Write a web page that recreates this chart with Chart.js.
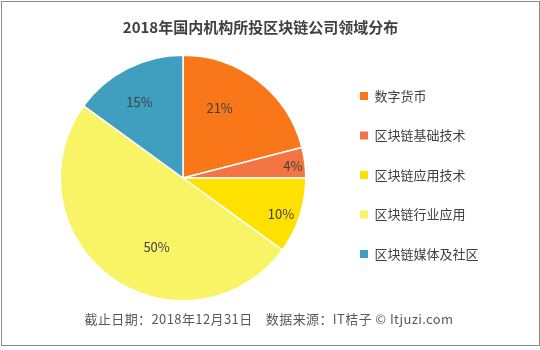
<!DOCTYPE html>
<html>
<head>
<meta charset="utf-8">
<script src="https://cdn.jsdelivr.net/npm/chart.js"></script>
<style>
  html, body { margin: 0; padding: 0; background: #fff; }
  #wrap { width: 540px; height: 350px; }
</style>
</head>
<body>
<div id="wrap"><canvas id="sectorChart" width="540" height="350"></canvas></div>
<script>
// Chart data
const categories = ['数字货币', '区块链基础技术', '区块链应用技术', '区块链行业应用', '区块链媒体及社区'];
const shares = [21, 4, 10, 50, 15];
const sliceColors = ['#F97619', '#F47544', '#FFE100', '#F9F466', '#409FBE'];
const chartTitle = '2018年国内机构所投区块链公司领域分布';
const footerText = '截止日期：2018年12月31日    数据来源：IT桔子 © Itjuzi.com';

const fontFamily = '"Noto Sans CJK SC", "Noto Sans", sans-serif';
Chart.defaults.font.family = fontFamily;
Chart.defaults.color = '#404040';

// Frame around the picture, plus a footer box added to the chart layout
const framePlugin = {
  id: 'frame',
  beforeInit(chart) {
    const footer = {
      position: 'bottom',
      weight: 0,
      fullSize: true,
      options: {},
      isHorizontal() { return true; },
      update(maxWidth) {
        this.width = maxWidth;
        this.height = 48.5;
      },
      draw() {
        const ctx = chart.ctx;
        ctx.save();
        ctx.font = '13px ' + fontFamily;
        ctx.letterSpacing = '0.4px';
        ctx.fillStyle = '#595959';
        ctx.textAlign = 'center';
        ctx.textBaseline = 'middle';
        ctx.fillText(footerText, 269, this.top + 17.5);
        ctx.restore();
      }
    };
    Chart.layouts.addBox(chart, footer);
  },
  beforeDraw(chart) {
    const ctx = chart.ctx;
    ctx.save();
    ctx.fillStyle = '#fff';
    ctx.fillRect(0, 0, chart.width, chart.height);
    ctx.strokeStyle = '#8a8a8a';
    ctx.lineWidth = 1;
    ctx.strokeRect(1.5, 1.5, 538, 344);
    ctx.restore();
  }
};

// Percent labels inside the slices
const sliceLabelPlugin = {
  id: 'sliceLabels',
  afterDatasetsDraw(chart, args, opts) {
    const ctx = chart.ctx;
    const arcs = chart.getDatasetMeta(0).data;
    ctx.save();
    ctx.font = '13px ' + fontFamily;
    ctx.fillStyle = '#404040';
    ctx.textAlign = 'center';
    ctx.textBaseline = 'middle';
    arcs.forEach((arc, i) => {
      const p = arc.getProps(['x', 'y', 'startAngle', 'endAngle', 'outerRadius'], true);
      const place = opts.placement[i];
      const mid = (p.startAngle + p.endAngle) / 2 + place.shift * Math.PI / 180;
      const r = p.outerRadius * place.r;
      ctx.fillText(shares[i] + '%', p.x + Math.cos(mid) * r, p.y + Math.sin(mid) * r);
    });
    ctx.restore();
  }
};

new Chart(document.getElementById('sectorChart'), {
  type: 'pie',
  data: {
    labels: categories,
    datasets: [{
      data: shares,
      backgroundColor: sliceColors,
      borderColor: '#ffffff',
      borderWidth: 1.5
    }]
  },
  options: {
    responsive: false,
    animation: false,
    layout: {
      padding: { left: 32.5, right: 51.5, top: 0, bottom: 0 }
    },
    plugins: {
      title: {
        display: true,
        text: chartTitle,
        color: '#404040',
        font: { size: 15, weight: 'bold' },
        padding: { top: 18, bottom: 18.5 }
      },
      legend: {
        position: 'right',
        onClick: null,
        labels: {
          boxWidth: 8,
          boxHeight: 8,
          padding: 26.5,
          color: '#404040',
          font: { size: 13 },
          generateLabels(chart) {
            const items = Chart.overrides.pie.plugins.legend.labels.generateLabels(chart);
            items.forEach(item => {
              item.lineWidth = 0;
              item.strokeStyle = 'rgba(0,0,0,0)';
            });
            return items;
          }
        }
      },
      tooltip: { enabled: false },
      sliceLabels: {
        placement: [
          { r: 0.64, shift: -10 },
          { r: 0.90, shift: 1 },
          { r: 0.85, shift: 2 },
          { r: 0.60, shift: -15 },
          { r: 0.71, shift: -3 }
        ]
      }
    }
  },
  plugins: [framePlugin, sliceLabelPlugin]
});
</script>
</body>
</html>
